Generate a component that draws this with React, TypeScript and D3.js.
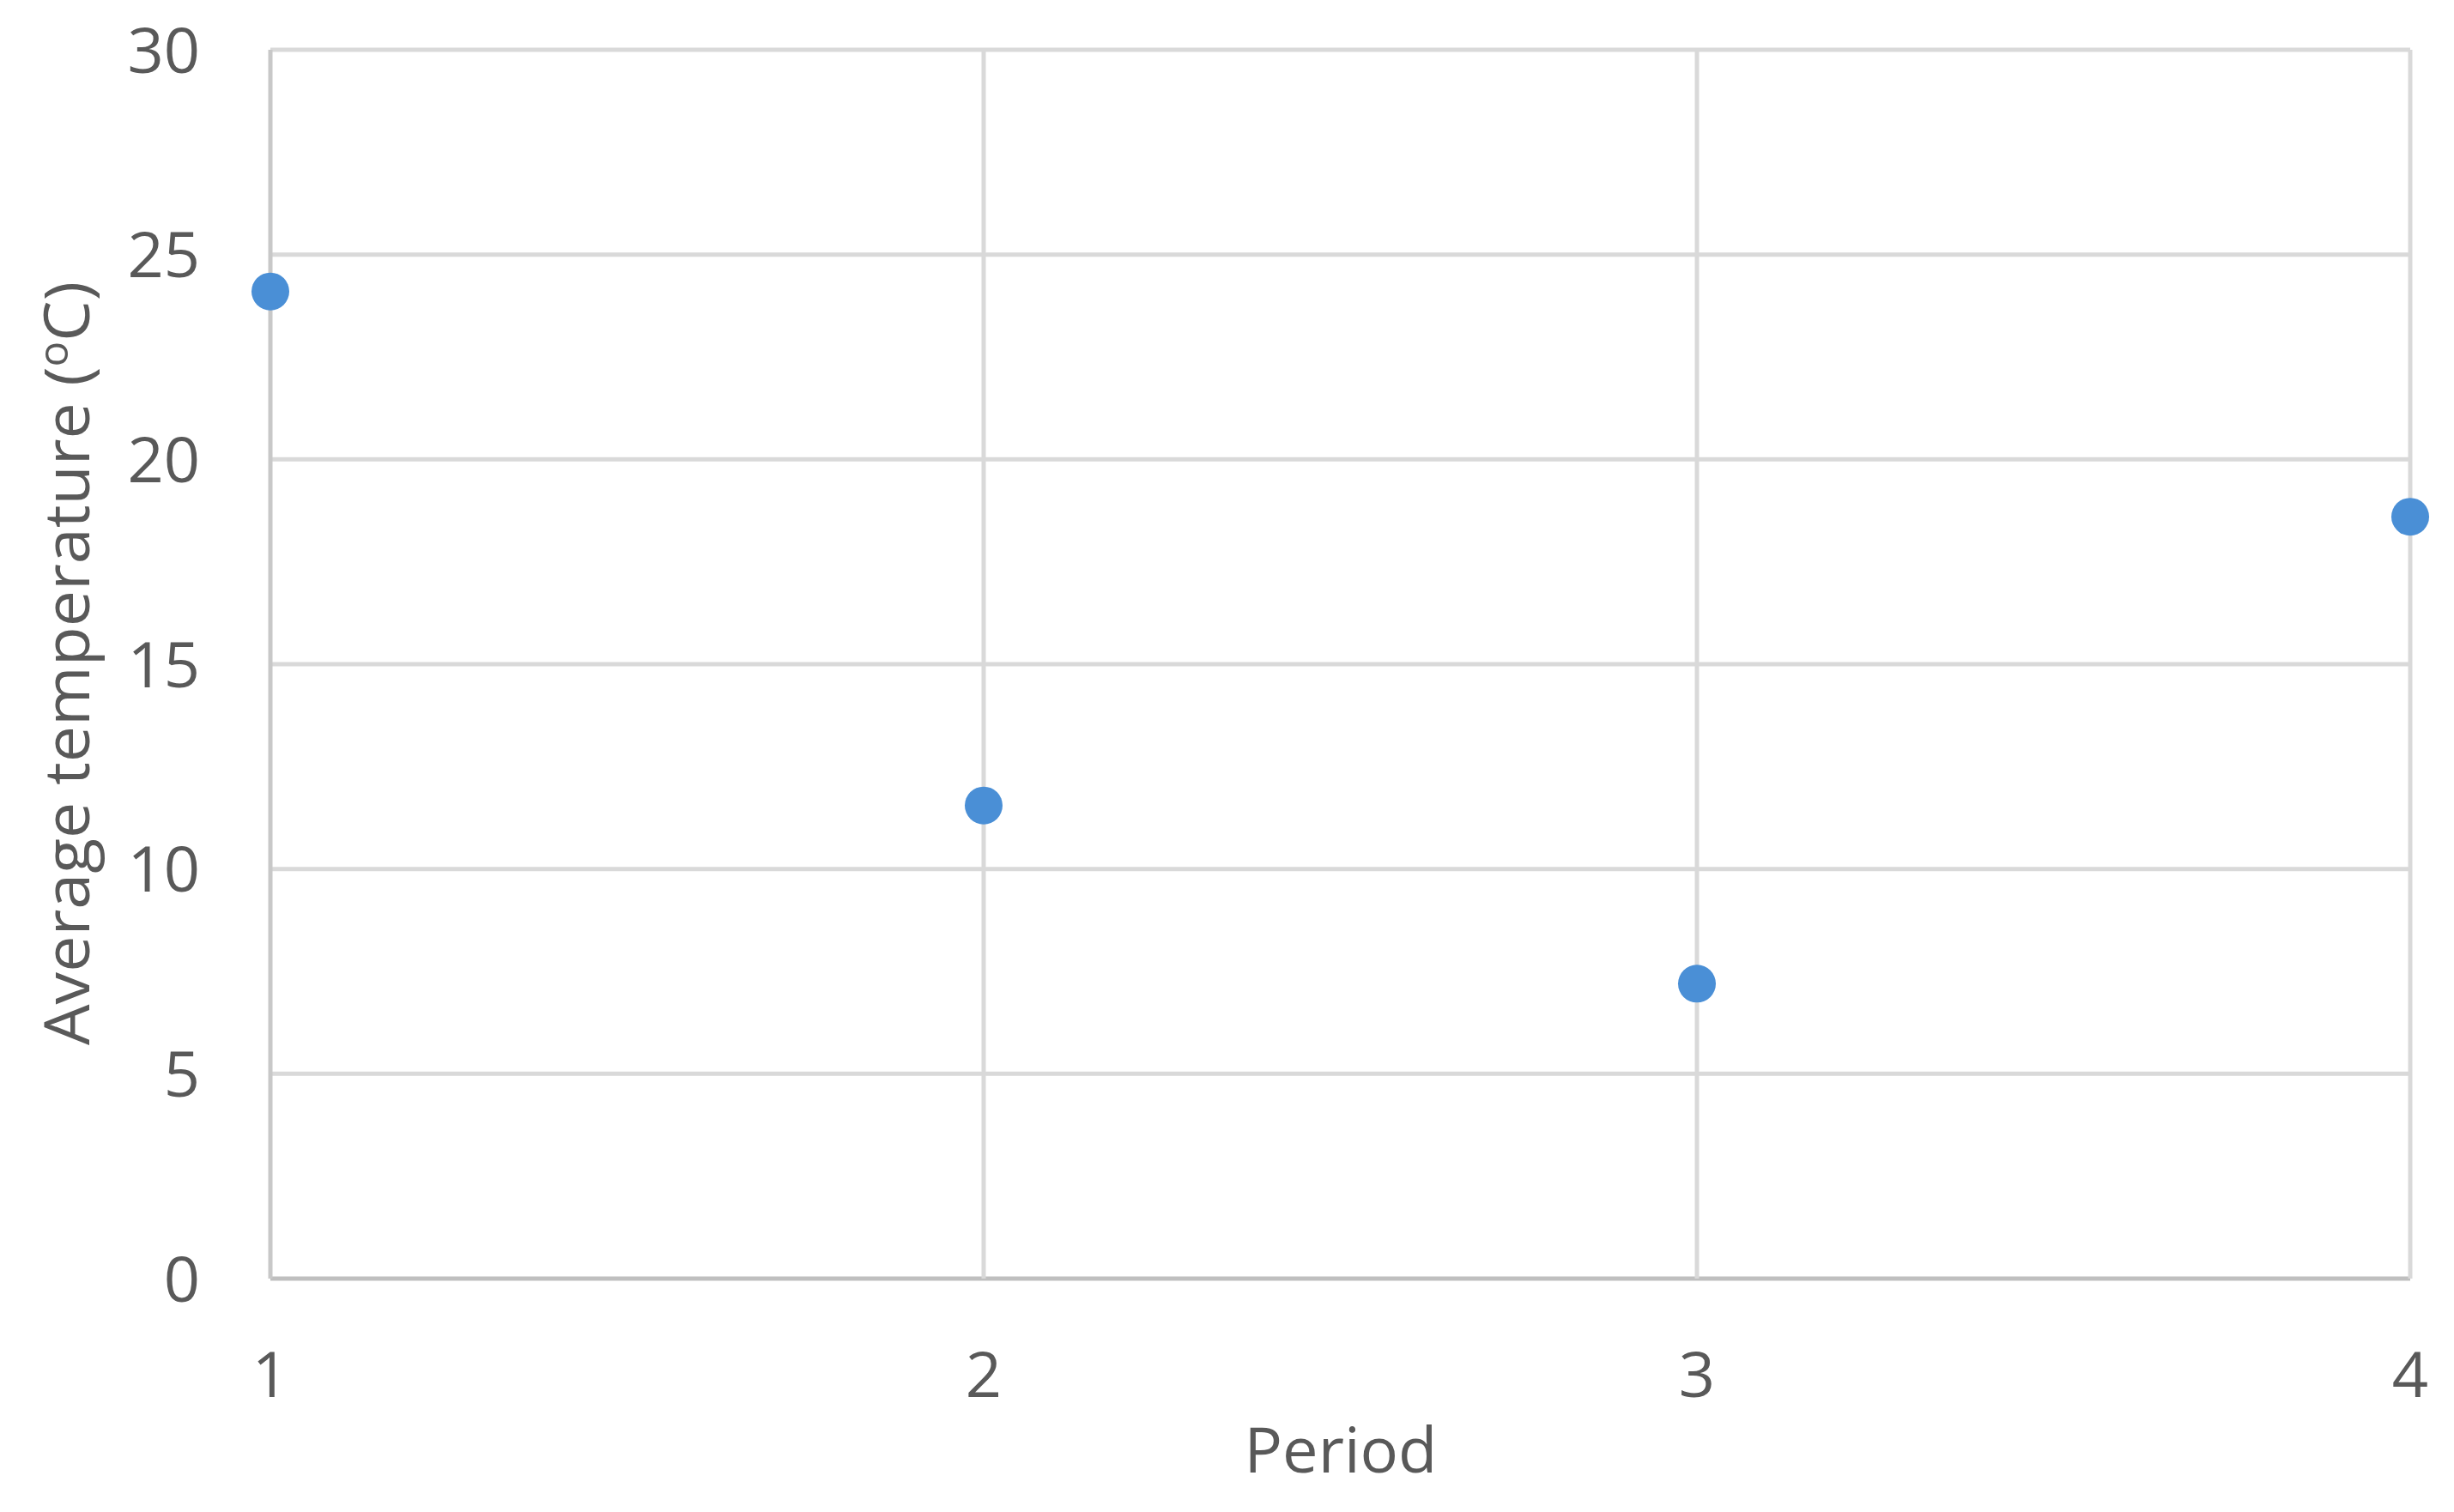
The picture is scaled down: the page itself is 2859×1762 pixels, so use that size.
import React from "react";
import * as d3 from "d3";

const periods = [1, 2, 3, 4];
const avgTemps = [24.1, 11.55, 7.2, 18.6];
const yTicks = [0, 5, 10, 15, 20, 25, 30];
const xTicks = [1, 2, 3, 4];
const xTitle = "Period";
const yTitleMain = "Average temperature (";
const yTitleSup = "o";
const yTitleEnd = "C)";

const W = 2859;
const H = 1762;
const M = { left: 315, right: 2808, top: 58, bottom: 1490 };
const FONT = "'Open Sans', 'Noto Sans', sans-serif";

export default function App() {
  const x = d3.scaleLinear().domain([1, 4]).range([M.left, M.right]);
  const y = d3.scaleLinear().domain([0, 30]).range([M.bottom, M.top]);
  const pts = periods.map((p, i) => ({ p, v: avgTemps[i] }));

  return (
    <svg
      width={W}
      height={H}
      style={{ position: "absolute", left: 0, top: 0, background: "#fff" }}
    >
      <rect x={0} y={0} width={W} height={H} fill="#fff" />
      {yTicks.map((t) => (
        <line
          key={"hy" + t}
          x1={M.left}
          x2={M.right}
          y1={y(t)}
          y2={y(t)}
          stroke={t === 0 ? "#bfbfbf" : "#d9d9d9"}
          strokeWidth={5}
        />
      ))}
      {xTicks.map((t) => (
        <line
          key={"vx" + t}
          x1={x(t)}
          x2={x(t)}
          y1={M.top}
          y2={M.bottom}
          stroke={t === 1 ? "#c8c8c8" : "#d9d9d9"}
          strokeWidth={5}
        />
      ))}
      {yTicks.map((t) => (
        <text
          key={"yl" + t}
          x={233}
          y={y(t)}
          dy="0.36em"
          textAnchor="end"
          fontFamily={FONT}
          fontSize={74}
          fill="#595959"
        >
          {t}
        </text>
      ))}
      {xTicks.map((t) => (
        <text
          key={"xl" + t}
          x={x(t)}
          y={1628}
          textAnchor="middle"
          fontFamily={FONT}
          fontSize={74}
          fill="#595959"
        >
          {t}
        </text>
      ))}
      <text
        x={1562}
        y={1716}
        textAnchor="middle"
        fontFamily={FONT}
        fontSize={74}
        fill="#595959"
      >
        {xTitle}
      </text>
      <text
        transform={`translate(104, 773) rotate(-90)`}
        textAnchor="middle"
        fontFamily={FONT}
        fontSize={73}
        fill="#595959"
        textLength={890}
        lengthAdjust="spacingAndGlyphs"
      >
        {yTitleMain}
        <tspan fontSize={48} dy={-25}>
          {yTitleSup}
        </tspan>
        <tspan dy={25}>{yTitleEnd}</tspan>
      </text>
      {pts.map((d) => (
        <circle
          key={"pt" + d.p}
          cx={x(d.p)}
          cy={y(d.v)}
          r={22}
          fill="#4a8fd6"
        />
      ))}
    </svg>
  );
}
